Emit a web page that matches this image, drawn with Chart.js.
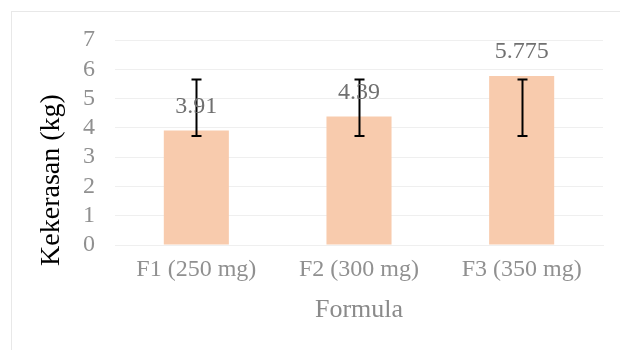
<!DOCTYPE html>
<html>
<head>
<meta charset="utf-8">
<script src="https://cdn.jsdelivr.net/npm/chart.js@4.4.1/dist/chart.umd.min.js"></script>
<style>
  html, body { margin: 0; padding: 0; background: #fff; }
  #wrap { position: relative; width: 620px; height: 350px; }
</style>
</head>
<body>
<div id="wrap"><canvas id="c"></canvas></div>
<script>
// ===== datos =====
const categories = ['F1 (250 mg)', 'F2 (300 mg)', 'F3 (350 mg)'];
const hardness   = [3.91, 4.39, 5.775];
const errLow     = [3.72, 3.72, 3.72];
const errHigh    = [5.65, 5.65, 5.65];
const yTicks     = [0, 1, 2, 3, 4, 5, 6, 7];

const SERIF = '"Liberation Serif", "Times New Roman", serif';

// marco del gráfico (borde gris claro)
const frame = {
  id: 'frame',
  beforeDraw(chart) {
    const c = chart.ctx;
    c.save();
    c.strokeStyle = '#e8e8e8';
    c.lineWidth = 1;
    c.strokeRect(11.5, 11.5, chart.width + 20, chart.height + 20);
    c.restore();
  }
};

// barras de error (valores bajo/alto personalizados)
const errorBars = {
  id: 'errorBars',
  afterDatasetsDraw(chart) {
    const c = chart.ctx;
    const y = chart.scales.y;
    const meta = chart.getDatasetMeta(0);
    c.save();
    c.strokeStyle = '#000';
    c.lineWidth = 2;
    meta.data.forEach((bar, i) => {
      const x = Math.round(bar.x) + 0.5;
      const yl = y.getPixelForValue(errLow[i]);
      const yh = y.getPixelForValue(errHigh[i]);
      c.beginPath();
      c.moveTo(x, yl); c.lineTo(x, yh);
      c.moveTo(x - 5, yl); c.lineTo(x + 5, yl);
      c.moveTo(x - 5, yh); c.lineTo(x + 5, yh);
      c.stroke();
    });
    c.restore();
  }
};

// etiquetas de valor encima de las barras
const valueLabels = {
  id: 'valueLabels',
  afterDatasetsDraw(chart) {
    const c = chart.ctx;
    const meta = chart.getDatasetMeta(0);
    c.save();
    c.font = `24px ${SERIF}`;
    c.fillStyle = '#707070';
    c.textAlign = 'center';
    c.textBaseline = 'middle';
    meta.data.forEach((bar, i) => {
      c.fillText(String(hardness[i]), bar.x, bar.y - 24);
    });
    c.restore();
  }
};

// títulos de ejes
const axisTitles = {
  id: 'axisTitles',
  afterDraw(chart) {
    const c = chart.ctx;
    const a = chart.chartArea;
    c.save();
    c.textAlign = 'center';
    c.textBaseline = 'middle';
    c.font = `26px ${SERIF}`;
    c.fillStyle = '#8a8a8a';
    c.fillText('Formula', (a.left + a.right) / 2, a.bottom + 65);
    c.translate(52, 180);
    c.rotate(-Math.PI / 2);
    c.font = `28px ${SERIF}`;
    c.fillStyle = '#000';
    c.fillText('Kekerasan (kg)', 0, 0);
    c.restore();
  }
};

new Chart(document.getElementById('c'), {
  type: 'bar',
  data: {
    labels: categories,
    datasets: [{
      data: hardness,
      backgroundColor: '#f8cbad',
      borderWidth: 0,
      barPercentage: 0.4,
      categoryPercentage: 1,
    }]
  },
  options: {
    responsive: true,
    maintainAspectRatio: false,
    animation: false,
    layout: { padding: { top: 40, right: 17, left: 0, bottom: 0 } },
    scales: {
      x: {
        grid: { display: false, drawTicks: false },
        border: { display: true, color: '#efefef', width: 1 },
        ticks: { color: '#909090', font: { family: SERIF, size: 24 }, padding: 10, maxRotation: 0 },
        afterFit: (s) => { s.height = 105; },
      },
      y: {
        min: yTicks[0],
        max: yTicks[yTicks.length - 1],
        afterBuildTicks: (s) => { s.ticks = yTicks.map(v => ({ value: v })); },
        grid: { color: '#efefef', lineWidth: 1, drawTicks: false },
        border: { display: false },
        ticks: { color: '#909090', font: { family: SERIF, size: 24 }, padding: 20, autoSkip: false, stepSize: 1 },
        afterFit: (s) => { s.width = 115; },
      }
    },
    plugins: {
      legend: { display: false },
      tooltip: { enabled: false },
      title: { display: false },
    }
  },
  plugins: [frame, errorBars, valueLabels, axisTitles]
});
</script>
</body>
</html>
